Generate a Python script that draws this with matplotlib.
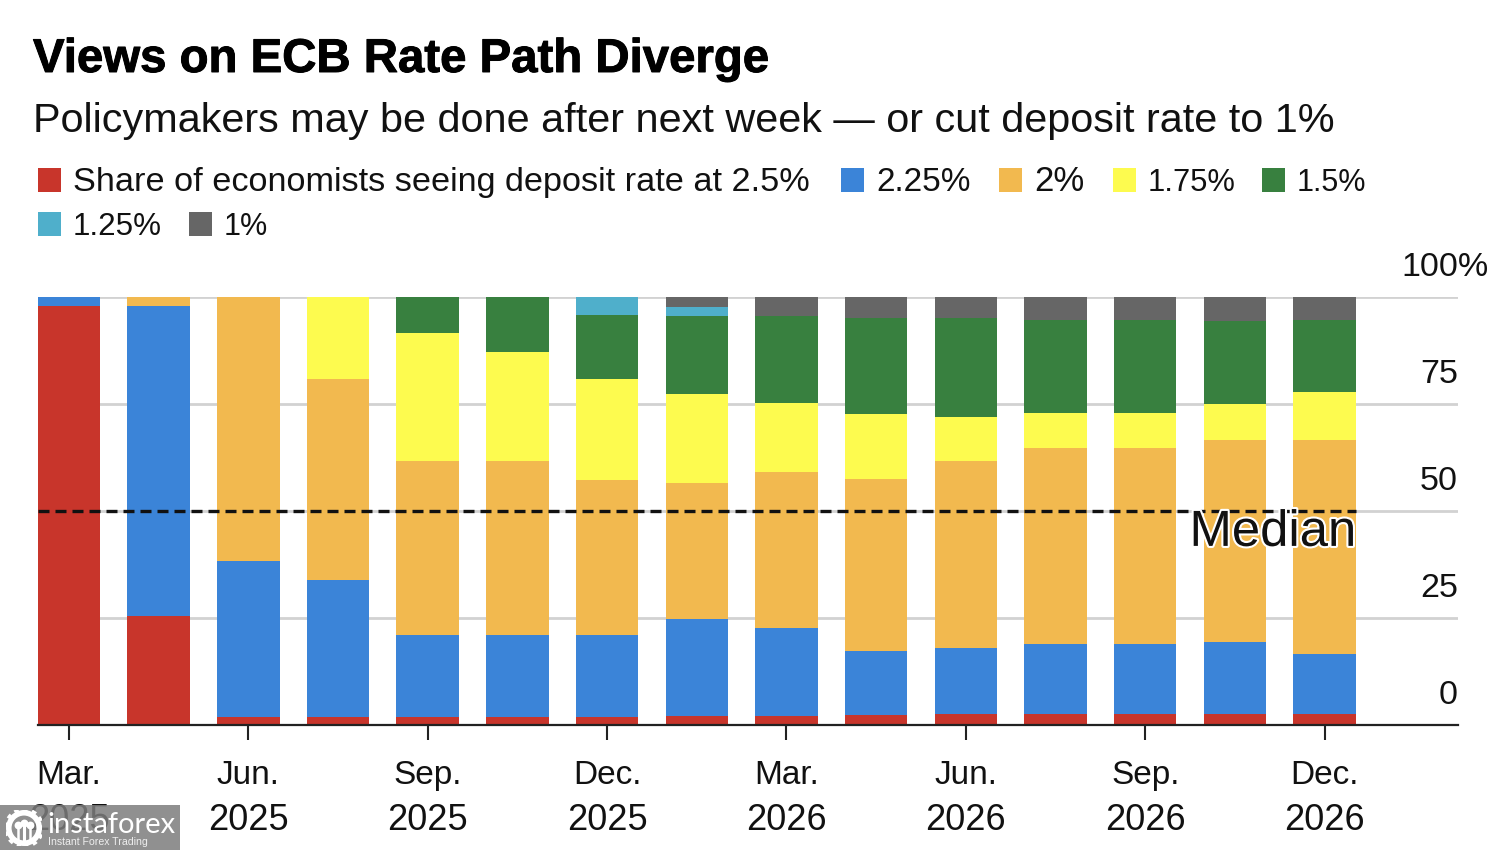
import matplotlib
matplotlib.use("Agg")
import matplotlib.pyplot as plt
import matplotlib.patheffects as pe
import matplotlib.transforms as mt
from matplotlib.patches import Rectangle

plt.rcParams['font.family'] = ['Liberation Sans', 'DejaVu Sans']

series_names = ["Share of economists seeing deposit rate at 2.5%", "2.25%", "2%", "1.75%", "1.5%", "1.25%", "1%"]
colors = ["#C8352B", "#3B84D8", "#F2B94F", "#FDFB4F", "#38803F", "#4FAFCB", "#666666"]
legend_sizes = [24.7, 24, 25, 22.2, 22, 22.6, 22]
tick_positions = [0, 2, 4, 6, 8, 10, 12, 14]
red = [97.9, 25.5, 1.9, 1.9, 1.9, 1.9, 1.9, 2.1, 2.1, 2.3, 2.6, 2.6, 2.6, 2.6, 2.6]
blue = [2.1, 72.4, 36.4, 32.0, 19.1, 19.1, 19.1, 22.7, 20.6, 15.0, 15.4, 16.3, 16.3, 16.8, 14.0]
orange = [0, 2.1, 61.7, 46.9, 40.7, 40.7, 36.2, 31.7, 36.4, 40.2, 43.7, 45.8, 45.8, 47.2, 50.0]
yellow = [0, 0, 0, 19.2, 29.9, 25.4, 23.6, 20.8, 16.1, 15.2, 10.3, 8.2, 8.2, 8.4, 11.2]
green = [0, 0, 0, 0, 8.4, 12.9, 15.0, 18.3, 20.4, 22.4, 23.1, 21.7, 21.7, 19.4, 16.8]
teal = [0, 0, 0, 0, 0, 0, 4.2, 2.1, 0, 0, 0, 0, 0, 0, 0]
grey = [0, 0, 0, 0, 0, 0, 0, 2.3, 4.4, 4.9, 4.9, 5.4, 5.4, 5.6, 5.4]
tick_months = ["Mar.", "Jun.", "Sep.", "Dec.", "Mar.", "Jun.", "Sep.", "Dec."]
tick_years = ["2025", "2025", "2025", "2025", "2026", "2026", "2026", "2026"]
y_ticks = [0, 25, 50, 75, 100]
y_labels = ["0", "25", "50", "75", "100%"]
median = 50
all_series = [red, blue, orange, yellow, green, teal, grey]

W, H = 1500, 850
fig = plt.figure(figsize=(W / 100, H / 100), dpi=100)
ax = fig.add_axes([38 / W, (H - 725) / H, (1458 - 38) / W, 428 / H])

x = list(range(len(red)))
bottom = [0.0] * len(red)
for vals, c in zip(all_series, colors):
    ax.bar(x, vals, bottom=bottom, width=0.697, color=c, linewidth=0, zorder=3)
    bottom = [b + v for b, v in zip(bottom, vals)]

ax.set_xlim(-31 / 89.68, (1458 - 69) / 89.68)
ax.set_ylim(0, 100)

for s in ["top", "left", "right"]:
    ax.spines[s].set_visible(False)
ax.spines["bottom"].set_color("#222222")
ax.spines["bottom"].set_linewidth(1.6)
ax.spines["bottom"].set_zorder(5)

ax.xaxis.remove_overlapping_locs = False
ax.set_xticks(tick_positions)
ax.set_xticklabels(tick_months, fontsize=24, color="#111111")
ax.tick_params(axis="x", which="major", length=10.5, width=1.5, color="#222222", pad=15)
ax.set_xticks(tick_positions, minor=True)
ax.set_xticklabels(tick_years, minor=True, fontsize=26, color="#111111")
ax.tick_params(axis="x", which="minor", length=0, pad=56)

ax.set_yticks(y_ticks)
ax.set_yticklabels(y_labels, fontsize=24.5, color="#111111")
ax.yaxis.tick_right()
ax.tick_params(axis="y", length=0, pad=0)
ax.grid(axis="y", color="#d2d2d2", linewidth=2, zorder=1)
ax.set_axisbelow(True)
for lab, text in zip(ax.get_yticklabels(), y_labels):
    lab.set_va("bottom")
    if text.endswith("%"):
        lab.set_ha("left")
        off = mt.ScaledTranslation(-57 / 100, 14 / 100, fig.dpi_scale_trans)
    else:
        lab.set_ha("right")
        off = mt.ScaledTranslation(0, 14 / 100, fig.dpi_scale_trans)
    lab.set_transform(lab.get_transform() + off)

ax.plot([-31 / 89.68, 14 + 31.5 / 89.68], [median, median], color="#111111", lw=2.4,
        dashes=(3.3, 1.8), zorder=6)
ax.text(14 + 31.5 / 89.68, 45, "Median", ha="right", va="center", fontsize=36.6, color="#111111", zorder=7,
        path_effects=[pe.withStroke(linewidth=3, foreground="white")])

fig.text(33 / W, 1 - 72 / H, "Views on ECB Rate Path Diverge", fontsize=34.1, fontweight="bold",
         color="#000000", ha="left", va="baseline",
         path_effects=[pe.withStroke(linewidth=0.7, foreground="#000000")])
fig.text(33 / W, 1 - 132 / H, "Policymakers may be done after next week \u2014 or cut deposit rate to 1%",
         fontsize=29.75, color="#111111", ha="left", va="baseline")

legend_pos = [(38, 180), (841, 180), (999, 180), (1113, 180), (1262, 180), (38, 224), (189, 224)]
for (lx, ly), name, c, sz in zip(legend_pos, series_names, colors, legend_sizes):
    fig.add_artist(Rectangle((lx / W, 1 - (ly + 12) / H), 23 / W, 24 / H, transform=fig.transFigure,
                             facecolor=c, edgecolor="none"))
    fig.text((lx + 35) / W, 1 - (ly + 11) / H, name, fontsize=sz, color="#111111", ha="left", va="baseline")

fig.add_artist(Rectangle((0, 0), 180 / W, 45 / H, transform=fig.transFigure,
                         facecolor="#7d7d7d", edgecolor="none", alpha=0.85, zorder=20))
wm = fig.add_axes([6 / W, 4 / H, 36 / W, 36 / H], zorder=21)
wm.set_xlim(-1, 1); wm.set_ylim(-1, 1); wm.axis("off")
wm.scatter([0], [0], s=480, facecolor="none", edgecolor="white", linewidths=4)
wm.scatter([0], [0], s=660, facecolor="none", edgecolor="white", linewidths=3.5, linestyle=(0, (0.9, 0.9)))
wm.scatter([0, -0.32, 0.32], [0.3, 0.15, 0.15], s=32, color="white", linewidths=0)
wm.plot([0, 0], [-0.75, 0.3], color="white", lw=2.2)
wm.plot([-0.32, -0.32], [-0.7, 0.15], color="white", lw=1.8)
wm.plot([0.32, 0.32], [-0.7, 0.15], color="white", lw=1.8)
fig.text(47 / W, 1 - 833 / H, "instaforex", fontsize=21, color="white", ha="left", va="baseline",
         zorder=22, family=["Lato", "DejaVu Sans"])
fig.text(48 / W, 1 - 845 / H, "Instant Forex Trading", fontsize=7.6, color="#eeeeee", ha="left",
         va="baseline", zorder=22)

fig.savefig("out.png", dpi=100, facecolor="white")
